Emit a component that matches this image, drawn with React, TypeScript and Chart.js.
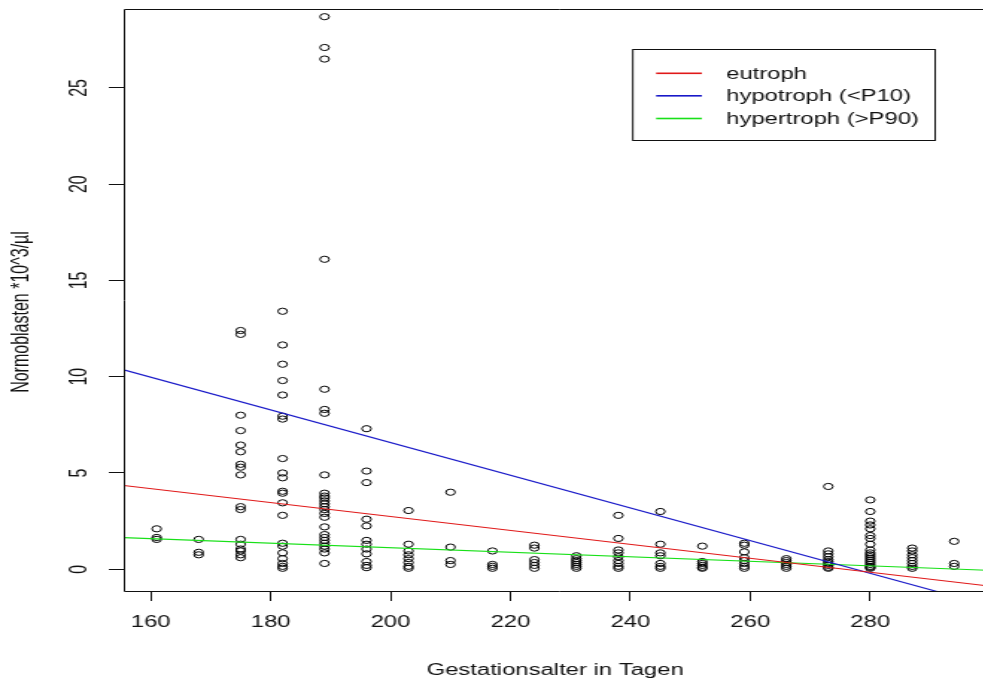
import React, { useEffect, useRef } from "react";
import { Chart, registerables } from "chart.js";

Chart.register(...registerables);

// ---- data ----
const gestationDays = [161, 168, 175, 182, 189, 196, 203, 210, 217, 224, 231, 238, 245, 252, 259, 266, 273, 280, 287, 294];

const normoblasts: number[][] = [
  [2.1, 1.65, 1.55],
  [1.55, 0.88, 0.75],
  [12.4, 12.2, 8.0, 7.2, 6.45, 6.1, 5.45, 5.3, 4.9, 3.25, 3.1, 1.55, 1.3, 1.05, 0.95, 0.75, 0.6],
  [13.4, 11.65, 10.65, 9.8, 9.05, 7.95, 7.8, 5.75, 5.0, 4.75, 4.05, 3.95, 3.45, 2.8, 1.35, 1.2, 0.85, 0.55, 0.3, 0.15, 0.05],
  [28.7, 27.1, 26.5, 16.1, 9.35, 8.3, 8.1, 4.9, 3.95, 3.8, 3.7, 3.55, 3.4, 3.25, 3.1, 2.9, 2.7, 2.2, 1.8, 1.65, 1.5, 1.35, 1.2, 1.05, 0.85, 0.3],
  [7.3, 5.1, 4.5, 2.6, 2.25, 1.5, 1.3, 1.05, 0.8, 0.4, 0.2, 0.08],
  [3.05, 1.3, 0.95, 0.75, 0.55, 0.35, 0.15, 0.05],
  [4.0, 1.15, 0.45, 0.25],
  [0.95, 0.25, 0.15, 0.05],
  [1.25, 1.1, 0.5, 0.35, 0.2, 0.05],
  [0.7, 0.55, 0.45, 0.35, 0.25, 0.15, 0.05],
  [2.8, 1.6, 1.0, 0.85, 0.65, 0.45, 0.3, 0.15, 0.05],
  [3.0, 1.3, 0.85, 0.7, 0.3, 0.15, 0.05],
  [1.2, 0.4, 0.3, 0.2, 0.1, 0.05],
  [1.35, 1.25, 0.9, 0.6, 0.45, 0.3, 0.15, 0.05],
  [0.55, 0.45, 0.35, 0.25, 0.15, 0.05],
  [4.3, 0.95, 0.8, 0.65, 0.5, 0.4, 0.3, 0.2, 0.1, 0.05],
  [3.6, 3.0, 2.5, 2.3, 2.1, 1.75, 1.6, 1.3, 1.0, 0.85, 0.75, 0.65, 0.55, 0.45, 0.35, 0.25, 0.15, 0.1, 0.05],
  [1.1, 0.95, 0.75, 0.6, 0.45, 0.3, 0.15, 0.05],
  [1.45, 0.3, 0.15],
];

// regression lines: values at the two ends of the x range
const fitDays = [155.5, 299.4];
const eutrophFit = [4.35, -0.86];
const hypotrophFit = [10.36, -1.86];
const hypertrophFit = [1.64, -0.05];

const seriesLabels = ["eutroph", "hypotroph (<P10)", "hypertroph (>P90)"];
const seriesColors = ["#e01818", "#1818c8", "#18e018"];

const xTickValues = [160, 180, 200, 220, 240, 260, 280];
const yTickValues = [0, 5, 10, 15, 20, 25];

const xTitle = "Gestationsalter in Tagen";
const yTitle = "Normoblasten *10^3/µl";

const FONT = '"Liberation Sans", Arial, sans-serif';
const FS = 16;
const TEXT = "#111";

// the original picture is stretched horizontally; draw narrow, show wide
const STRETCH = 1.49;
const CW = 667;
const sx = (px: number) => px / STRETCH; // picture x -> canvas x

const boxLegendPlugin = {
  id: "rBoxLegend",
  afterDraw(chart: any) {
    const { ctx, chartArea: a } = chart;
    ctx.save();
    // box (top, left, bottom; right side lies outside the picture)
    ctx.strokeStyle = TEXT;
    ctx.lineWidth = 1;
    ctx.beginPath();
    ctx.moveTo(a.right + 5, Math.round(a.top) + 0.5);
    ctx.lineTo(Math.round(a.left) + 0.5, Math.round(a.top) + 0.5);
    ctx.lineTo(Math.round(a.left) + 0.5, Math.round(a.bottom) + 0.5);
    ctx.lineTo(a.right + 5, Math.round(a.bottom) + 0.5);
    ctx.stroke();

    // y axis title (rotated)
    ctx.save();
    ctx.translate(sx(21), 312);
    ctx.rotate(-Math.PI / 2);
    ctx.font = `${FS}px ${FONT}`;
    ctx.fillStyle = TEXT;
    ctx.textAlign = "center";
    ctx.textBaseline = "middle";
    ctx.fillText(yTitle, 0, 0);
    ctx.restore();

    // legend
    const bx0 = sx(632.7), by0 = 49.5, bx1 = sx(935), by1 = 140.5;
    ctx.fillStyle = "#fff";
    ctx.fillRect(bx0, by0, bx1 - bx0, by1 - by0);
    ctx.strokeStyle = TEXT;
    ctx.lineWidth = 1;
    ctx.strokeRect(bx0, by0, bx1 - bx0, by1 - by0);
    const rows = [73.3, 95.8, 118.5];
    const fits = chart.data.datasets.filter((d: any) => d.type === "line");
    ctx.font = `${FS}px ${FONT}`;
    ctx.textBaseline = "middle";
    ctx.textAlign = "left";
    fits.forEach((d: any, i: number) => {
      ctx.strokeStyle = d.borderColor;
      ctx.lineWidth = 1.6;
      ctx.beginPath();
      ctx.moveTo(sx(656), rows[i]);
      ctx.lineTo(sx(701.7), rows[i]);
      ctx.stroke();
      ctx.fillStyle = TEXT;
      ctx.fillText(d.label, sx(726), rows[i] + 1);
    });
    ctx.restore();
  },
};

export default function App() {
  const ref = useRef<HTMLCanvasElement>(null);

  useEffect(() => {
    document.body.style.margin = "0";
    const canvas = ref.current!;
    const points: { x: number; y: number }[] = [];
    gestationDays.forEach((d, i) => normoblasts[i].forEach((v) => points.push({ x: d, y: v })));
    const fits = [eutrophFit, hypotrophFit, hypertrophFit];

    const chart = new Chart(canvas, {
      type: "scatter",
      data: {
        datasets: [
          ...fits.map((f, i) => ({
            type: "line" as const,
            label: seriesLabels[i],
            data: fitDays.map((x, j) => ({ x, y: f[j] })),
            borderColor: seriesColors[i],
            borderWidth: 1.1,
            pointRadius: 0,
            fill: false,
            clip: 0,
          })),
          {
            type: "scatter" as const,
            label: "Normoblasten",
            data: points,
            pointRadius: 3.1,
            pointBorderWidth: 1,
            borderColor: "#000",
            backgroundColor: "rgba(0,0,0,0)",
            pointBackgroundColor: "rgba(0,0,0,0)",
            pointBorderColor: "#000",
          },
        ],
      },
      options: {
        responsive: false,
        animation: false,
        devicePixelRatio: 1,
        events: [],
        layout: { padding: { top: 9, left: 0, right: 0, bottom: 0 } },
        plugins: { legend: { display: false }, tooltip: { enabled: false } },
        scales: {
          x: {
            type: "linear",
            min: 155.5,
            max: 299.4,
            afterFit: (s: any) => {
              s.height = 95;
              s.paddingLeft = 0;
              s.paddingRight = 0;
            },
            afterBuildTicks: (s: any) => {
              s.ticks = xTickValues.map((v) => ({ value: v }));
            },
            grid: { display: true, drawOnChartArea: false, drawTicks: true, tickLength: 10, tickColor: TEXT, lineWidth: 1 },
            border: { display: false },
            ticks: { color: TEXT, font: { family: FONT, size: FS }, padding: 12.4, maxRotation: 0, minRotation: 0 },
            title: { display: true, text: xTitle, color: TEXT, font: { family: FONT, size: FS }, padding: { top: 0, bottom: 5.4 } },
          },
          y: {
            type: "linear",
            min: -1.13,
            max: 29.1,
            afterFit: (s: any) => {
              s.width = Math.round(sx(123.3));
              s.paddingTop = 0;
              s.paddingBottom = 0;
            },
            afterBuildTicks: (s: any) => {
              s.ticks = yTickValues.map((v) => ({ value: v }));
            },
            grid: { display: true, drawOnChartArea: false, drawTicks: true, tickLength: 10, tickColor: TEXT, lineWidth: 1 },
            border: { display: false },
            ticks: { color: TEXT, font: { family: FONT, size: FS }, padding: 10.4, minRotation: 90, maxRotation: 90, crossAlign: "center" },
            title: { display: false },
          },
        },
      },
      plugins: [boxLegendPlugin],
    });
    return () => chart.destroy();
  }, []);

  return (
    <div style={{ position: "fixed", left: 0, top: 0, width: 983, height: 686, overflow: "hidden", background: "#fff" }}>
      <canvas ref={ref} width={CW} height={686} style={{ width: `${CW * STRETCH}px`, height: "686px", display: "block" }} />
    </div>
  );
}
